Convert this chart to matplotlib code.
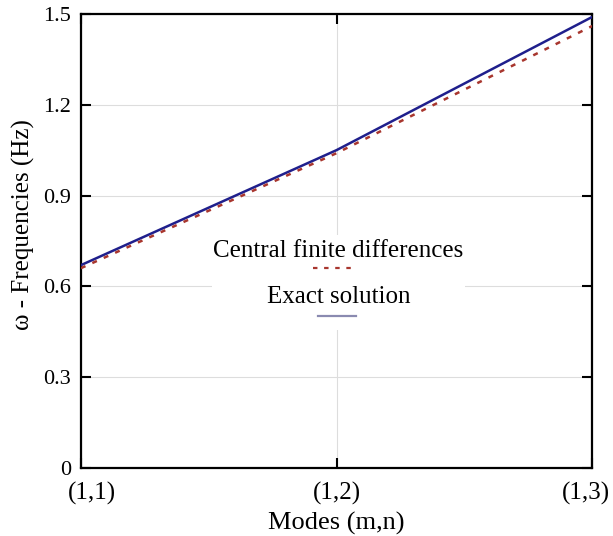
import matplotlib

matplotlib.use("Agg")
import matplotlib.pyplot as plt
from matplotlib.lines import Line2D
from matplotlib.patches import Rectangle
from matplotlib.transforms import ScaledTranslation

# ---------- data -----------------------------------------------------------

modes = ["(1,1)", "(1,2)", "(1,3)"]
mode_pos = [1, 2, 3]
exact_freq = [0.67, 1.05, 1.49]
cfd_freq = [0.66, 1.04, 1.46]
y_ticks = [0, 0.3, 0.6, 0.9, 1.2, 1.5]
y_tick_labels = ["0", "0.3", "0.6", "0.9", "1.2", "1.5"]

EXACT_COLOR = "#1f1f8c"
CFD_COLOR = "#a8362e"

plt.rcParams["font.family"] = ["Liberation Serif", "DejaVu Serif"]

fig = plt.figure(figsize=(6.13, 5.36), dpi=100)
ax = fig.add_axes([0.132, 0.127, 0.834, 0.847])

ax.plot(mode_pos, exact_freq, color=EXACT_COLOR, linewidth=1.8, zorder=3)
ax.plot(mode_pos, cfd_freq, color=CFD_COLOR, linewidth=1.8,
        linestyle=(0, (2.0, 3.0)), zorder=3)

ax.set_xlim(1, 3)
ax.set_ylim(0, 1.5)
ax.set_xticks(mode_pos)
ax.set_xticklabels(modes, fontsize=18)
ax.set_yticks(y_ticks)
ax.set_yticklabels(y_tick_labels, fontsize=16)
ax.tick_params(direction="in", length=7, width=1.5, top=True, right=True)
ax.tick_params(axis="x", pad=10)
ax.tick_params(axis="y", pad=7)
ax.grid(True, color="#dddddd", linewidth=0.8)
for s in ax.spines.values():
    s.set_linewidth(1.6)

# keep the outer mode labels inside the figure
xlabels = ax.get_xticklabels()
for lbl, dx in ((xlabels[0], 11), (xlabels[-1], -6)):
    lbl.set_transform(lbl.get_transform()
                      + ScaledTranslation(dx / 100, 0, fig.dpi_scale_trans))

ax.set_xlabel("Modes (m,n)", fontsize=19, labelpad=5)
ax.set_ylabel("\u03c9 - Frequencies (Hz)", fontsize=18)
ax.yaxis.set_label_coords(-0.09, 0.535)

# legend block: label above its line sample, on a white patch
ax.add_patch(Rectangle((0.256, 0.304), 0.495, 0.209, transform=ax.transAxes,
                       facecolor="white", edgecolor="none", zorder=4))
ax.text(0.503, 0.478, "Central finite differences", transform=ax.transAxes,
        ha="center", va="center", fontsize=18, zorder=5)
ax.add_line(Line2D([0.454, 0.54], [0.44, 0.44], transform=ax.transAxes,
                   color=CFD_COLOR, linewidth=1.6, linestyle=(0, (2.0, 3.0)),
                   zorder=5))
ax.text(0.505, 0.377, "Exact solution", transform=ax.transAxes,
        ha="center", va="center", fontsize=18, zorder=5)
ax.add_line(Line2D([0.464, 0.538], [0.335, 0.335], transform=ax.transAxes,
                   color="#8a8ab0", linewidth=1.6, zorder=5))

fig.savefig("out.png", dpi=100)
